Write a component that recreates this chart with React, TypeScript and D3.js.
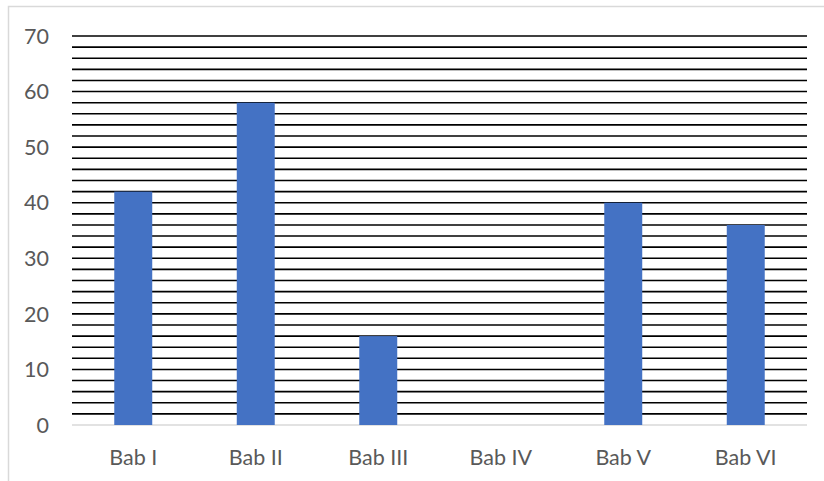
import React from 'react';
import * as d3 from 'd3';

const categories = ['Bab I', 'Bab II', 'Bab III', 'Bab IV', 'Bab V', 'Bab VI'];
const values = [42, 58, 16, 0, 40, 36];
const yTicks = [0, 10, 20, 30, 40, 50, 60, 70];
const gridValues = d3.range(2, 71, 2);

const W = 824;
const H = 481;
const margin = { top: 36, right: 17, bottom: 56, left: 72 };

const App: React.FC = () => {
  const x = d3.scaleBand<string>()
    .domain(categories)
    .range([margin.left, W - margin.right])
    .paddingInner(0.69)
    .paddingOuter(0.345);

  const y = d3.scaleLinear()
    .domain([0, 70])
    .range([H - margin.bottom, margin.top]);

  const font = "Lato, 'Open Sans', sans-serif";

  return (
    <svg width={W} height={H} style={{ position: 'absolute', left: 0, top: 0, background: '#fff' }}>
      {/* chart area border */}
      <rect x={8.5} y={6.5} width={W + 10} height={H + 10} fill="#fff" stroke="#d9d9d9" strokeWidth={1.5} />

      {/* gridlines every 2 */}
      {gridValues.map(v => (
        <line key={v} x1={margin.left} x2={W - margin.right} y1={y(v)} y2={y(v)} stroke="#000" strokeWidth={1.6} />
      ))}

      {/* baseline */}
      <line x1={margin.left} x2={W - margin.right} y1={y(0)} y2={y(0)} stroke="#d9d9d9" strokeWidth={1.5} />

      {/* bars */}
      {categories.map((c, i) => (
        values[i] > 0 ? (
          <rect key={c} x={x(c)} y={y(values[i])} width={x.bandwidth()} height={y(0) - y(values[i])} fill="#4472c4" />
        ) : null
      ))}

      {/* y tick labels */}
      {yTicks.map(t => (
        <text key={t} x={49} y={y(t)} dy="0.36em" textAnchor="end" fill="#595959" fontSize={21.5} fontFamily={font}>{t}</text>
      ))}

      {/* x labels */}
      {categories.map(c => (
        <text key={c} x={(x(c) ?? 0) + x.bandwidth() / 2} y={465} textAnchor="middle" fill="#595959" fontSize={21.5} fontFamily={font}>{c}</text>
      ))}
    </svg>
  );
};

export default App;
